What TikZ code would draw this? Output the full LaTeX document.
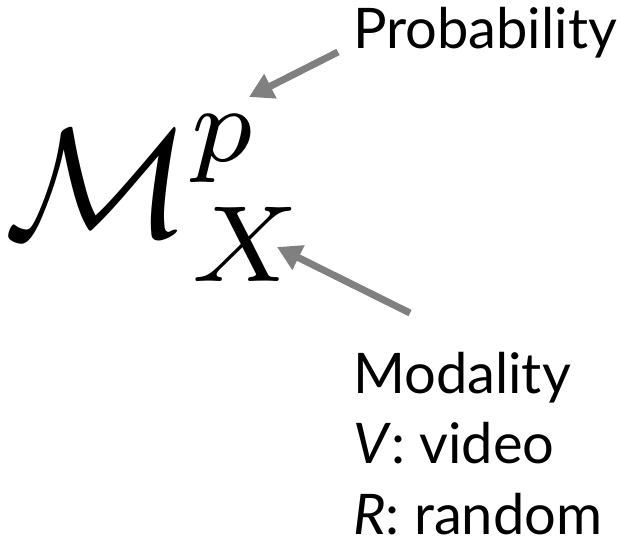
\documentclass[tikz,border=0pt]{standalone}
\usepackage{fontspec}
\setmainfont{Lato}
\usetikzlibrary{arrows.meta}
\tikzset{
  pointer/.style={draw=black!50, line width=7pt, -{Triangle[length=24pt,width=26pt]}, shorten >=0pt},
  label/.style={inner sep=0pt, font=\fontsize{56}{70.5}\selectfont, align=left}
}
\begin{document}
\begin{tikzpicture}[x=1pt,y=-1pt]
\useasboundingbox (0,0) rectangle (620,557);
\node[inner sep=0pt, anchor=base west] (m) at (4,236) {\scalebox{15.5}{$\mathcal{M}^p_X$}};
\node[label, anchor=base west] (prob) at (353,48) {Probability};
\node[label, anchor=north west] (mod) at (353,352) {Modality\\\textit{V}: video\\\textit{R}: random};
\coordinate (t1) at (338,52);
\coordinate (h1) at (249,97);
\coordinate (t2) at (410,313);
\coordinate (h2) at (277,247);
\draw[pointer] (t1) -- (h1);
\draw[pointer] (t2) -- (h2);
\end{tikzpicture}
\end{document}
